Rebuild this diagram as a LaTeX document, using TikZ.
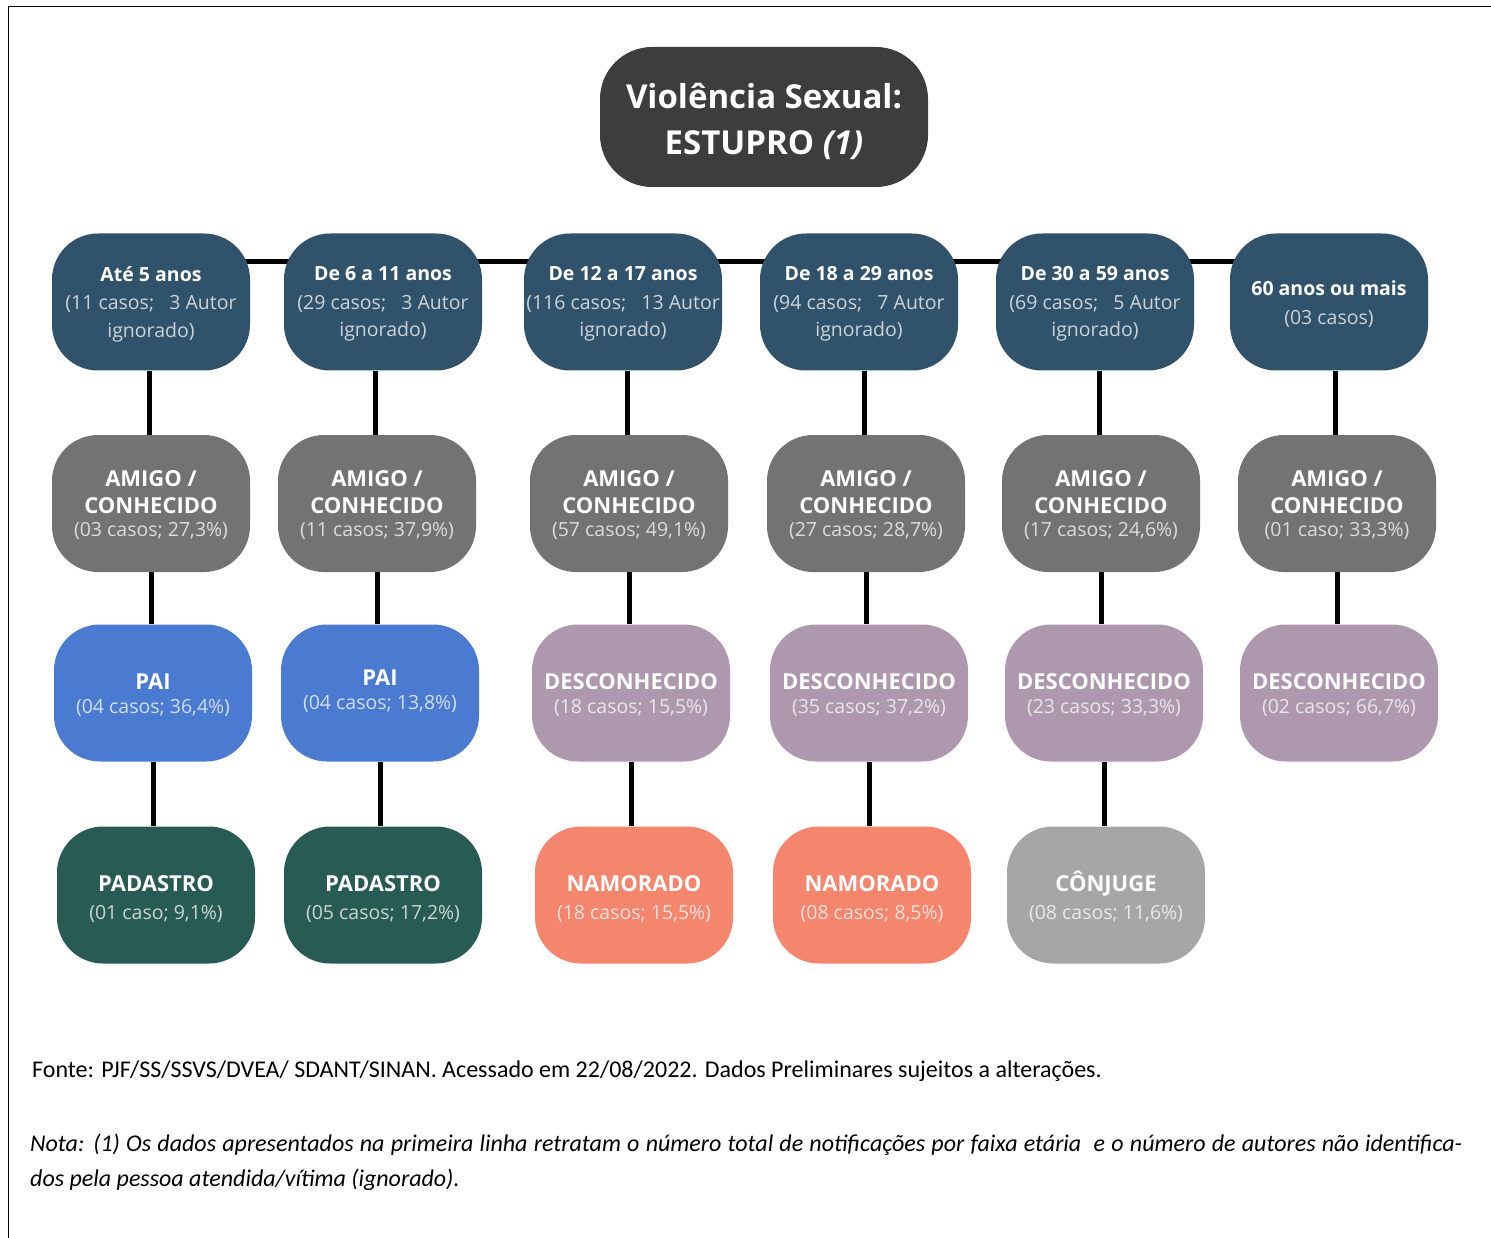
\documentclass[tikz,border=0pt]{standalone}
\usepackage{fontspec}
\setmainfont{Open Sans}
\newfontfamily\calib{Carlito}
\usetikzlibrary{backgrounds}
\definecolor{ctitle}{HTML}{3D3D3D}
\definecolor{cage}{HTML}{30526B}
\definecolor{camigo}{HTML}{737373}
\definecolor{cdesc}{HTML}{AE98AD}
\definecolor{cpai}{HTML}{4A7BD0}
\definecolor{cpad}{HTML}{285B53}
\definecolor{cnam}{HTML}{F4866E}
\definecolor{cconj}{HTML}{A6A6A6}
\colorlet{subc}{white}
\newcommand\subt[1]{{\color{subc}\fontsize{19.5}{26}\selectfont#1}}
\newcommand\hd[1]{{\bfseries\fontsize{22}{28}\selectfont#1}}
\tikzset{
  box/.style={rectangle, rounded corners=46pt, minimum width=198pt, minimum height=137pt, inner sep=0pt},
  bt/.style={inner sep=0pt, align=center, text=white, font=\fontsize{19.5}{27.5}\selectfont},
  agebox/.style={box, fill=cage},
  amigobox/.style={box, fill=camigo},
  descbox/.style={box, fill=cdesc},
  paibox/.style={box, fill=cpai},
  padbox/.style={box, fill=cpad},
  nambox/.style={box, fill=cnam},
  conjbox/.style={box, fill=cconj},
  agetx/.style={bt, execute at begin node={\colorlet{subc}{white!75!cage}}},
  amigotx/.style={bt, execute at begin node={\colorlet{subc}{white!75!camigo}}},
  desctx/.style={bt, execute at begin node={\colorlet{subc}{white!75!cdesc}}},
  paitx/.style={bt, execute at begin node={\colorlet{subc}{white!75!cpai}}},
  padtx/.style={bt, execute at begin node={\colorlet{subc}{white!75!cpad}}},
  namtx/.style={bt, execute at begin node={\colorlet{subc}{white!75!cnam}}},
  conjtx/.style={bt, execute at begin node={\colorlet{subc}{white!75!cconj}}},
  link/.style={line width=5pt, black},
  foot/.style={anchor=base west, inner sep=0pt, font=\calib\fontsize{24}{30}\selectfont},
}
\begin{document}
\begin{tikzpicture}[x=1pt,y=-1pt]
\useasboundingbox (0,0) rectangle (1491,1238);
\draw[line width=1pt] (8,1238) -- (8,7) -- (1491,7);

\node[rectangle, rounded corners=52pt, minimum width=328pt, minimum height=140pt, fill=ctitle, inner sep=0pt,
  label={[inner sep=0pt, text=white, align=center, font=\fontsize{33}{46}\selectfont\bfseries, yshift=-4pt]center:{Violência Sexual:\\ESTUPRO \textit{(1)}}}]
  (t) at (764,117) {};

% row 1
\node[agebox, label={[agetx, yshift=-2pt]center:{\textbf{Até 5 anos}\\[1pt]\subt{(11 casos;\ \ \ 3 Autor}\\\subt{ignorado)}}}] (r1a) at (151,302) {};
\node[agebox, label={[agetx, yshift=-2pt]center:{\textbf{De 6 a 11 anos}\\[1pt]\subt{(29 casos;\ \ \ 3 Autor}\\\subt{ignorado)}}}] (r1b) at (383,302) {};
\node[agebox, label={[agetx, yshift=-2pt]center:{\textbf{De 12 a 17 anos}\\[1pt]\subt{(116 casos;\ \ \ 13 Autor}\\\subt{ignorado)}}}] (r1c) at (623,302) {};
\node[agebox, label={[agetx, yshift=-2pt]center:{\textbf{De 18 a 29 anos}\\[1pt]\subt{(94 casos;\ \ \ 7 Autor}\\\subt{ignorado)}}}] (r1d) at (859,302) {};
\node[agebox, label={[agetx, yshift=-2pt]center:{\textbf{De 30 a 59 anos}\\[1pt]\subt{(69 casos;\ \ \ 5 Autor}\\\subt{ignorado)}}}] (r1e) at (1095,302) {};
\node[agebox, label={[agetx, yshift=-2pt]center:{\textbf{60 anos ou mais}\\[1pt]\subt{(03 casos)}}}] (r1f) at (1329,302) {};

% row 2
\node[amigobox, label={[amigotx, yshift=-1.5pt]center:{\hd{AMIGO /}\\\hd{CONHECIDO}\\[-5pt]\subt{(03 casos; 27,3\%)}}}] (r2a) at (151,503.5) {};
\node[amigobox, label={[amigotx, yshift=-1.5pt]center:{\hd{AMIGO /}\\\hd{CONHECIDO}\\[-5pt]\subt{(11 casos; 37,9\%)}}}] (r2b) at (377,503.5) {};
\node[amigobox, label={[amigotx, yshift=-1.5pt]center:{\hd{AMIGO /}\\\hd{CONHECIDO}\\[-5pt]\subt{(57 casos; 49,1\%)}}}] (r2c) at (629,503.5) {};
\node[amigobox, label={[amigotx, yshift=-1.5pt]center:{\hd{AMIGO /}\\\hd{CONHECIDO}\\[-5pt]\subt{(27 casos; 28,7\%)}}}] (r2d) at (866,503.5) {};
\node[amigobox, label={[amigotx, yshift=-1.5pt]center:{\hd{AMIGO /}\\\hd{CONHECIDO}\\[-5pt]\subt{(17 casos; 24,6\%)}}}] (r2e) at (1101,503.5) {};
\node[amigobox, label={[amigotx, yshift=-1.5pt]center:{\hd{AMIGO /}\\\hd{CONHECIDO}\\[-5pt]\subt{(01 caso; 33,3\%)}}}] (r2f) at (1337,503.5) {};

% row 3
\node[paibox, label={[paitx, yshift=-2pt]center:{\hd{PAI}\\[-3pt]\subt{(04 casos; 36,4\%)}}}] (r3a) at (153,693) {};
\node[paibox, label={[paitx, yshift=2pt]center:{\hd{PAI}\\[-3pt]\subt{(04 casos; 13,8\%)}}}] (r3b) at (380,693) {};
\node[descbox, label={[desctx, yshift=-2pt]center:{\hd{DESCONHECIDO}\\[-3pt]\subt{(18 casos; 15,5\%)}}}] (r3c) at (631,693) {};
\node[descbox, label={[desctx, yshift=-2pt]center:{\hd{DESCONHECIDO}\\[-3pt]\subt{(35 casos; 37,2\%)}}}] (r3d) at (869,693) {};
\node[descbox, label={[desctx, yshift=-2pt]center:{\hd{DESCONHECIDO}\\[-3pt]\subt{(23 casos; 33,3\%)}}}] (r3e) at (1104,693) {};
\node[descbox, label={[desctx, yshift=-2pt]center:{\hd{DESCONHECIDO}\\[-3pt]\subt{(02 casos; 66,7\%)}}}] (r3f) at (1339,693) {};

% row 4
\node[padbox, label={[padtx, yshift=-4pt]center:{\hd{PADASTRO}\\[1pt]\subt{(01 caso; 9,1\%)}}}] (r4a) at (156,895) {};
\node[padbox, label={[padtx, yshift=-4pt]center:{\hd{PADASTRO}\\[1pt]\subt{(05 casos; 17,2\%)}}}] (r4b) at (383,895) {};
\node[nambox, label={[namtx, yshift=-4pt]center:{\hd{NAMORADO}\\[1pt]\subt{(18 casos; 15,5\%)}}}] (r4c) at (634,895) {};
\node[nambox, label={[namtx, yshift=-4pt]center:{\hd{NAMORADO}\\[1pt]\subt{(08 casos; 8,5\%)}}}] (r4d) at (872,895) {};
\node[conjbox, label={[conjtx, yshift=-2pt]center:{\hd{CÔNJUGE}\\[1pt]\subt{(08 casos; 11,6\%)}}}] (r4e) at (1106,895) {};

\begin{scope}[on background layer]
\draw[link] ([yshift=40pt]r1a.center) -- ([yshift=40pt]r1f.center);
\foreach \c in {a,b,c,d,e,f}{
  \draw[link] ([xshift=-2pt]r2\c.north |- r1\c.south) -- ([xshift=-2pt]r2\c.north);
  \draw[link] (r2\c.south) -- (r2\c.south |- r3\c.north);
}
\foreach \c in {a,b,c,d,e}{
  \draw[link] (r3\c.south) -- (r3\c.south |- r4\c.north);
}
\end{scope}

\node[foot] (fonte) at (32,1077)
  {Fonte: PJF/SS/SSVS/DVEA/ SDANT/SINAN. Acessado em 22/08/2022. Dados Preliminares sujeitos a alterações.};
\node[foot, font=\calib\itshape\fontsize{24}{30}\selectfont] (nota1) at (30,1151)
  {\makebox[1432pt][s]{Nota: (1) Os dados apresentados na primeira linha retratam o número total de notificações por faixa etária\ \ e o número de autores não identifica-}};
\node[foot, font=\calib\itshape\fontsize{24}{30}\selectfont] (nota2) at (30,1186)
  {dos pela pessoa atendida/vítima (ignorado).};
\end{tikzpicture}
\end{document}
